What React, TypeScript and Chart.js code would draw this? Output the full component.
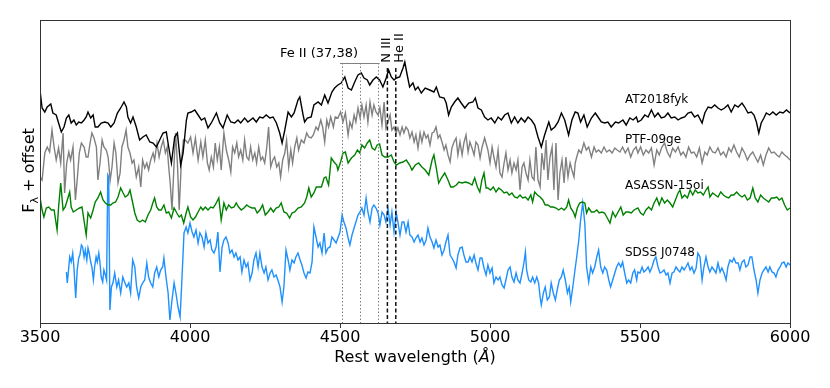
import React, { useEffect, useRef } from "react";
import { Chart, registerables } from "chart.js";

Chart.register(...registerables);

// Rest wavelength (Å) and F_lambda + offset (arbitrary units)
const WAVE_AT = [3500,3507,3516,3524,3536,3543,3554,3562,3571,3580,3588,3596,3604,3613,3621,3629,3638,3647,3654,3660,3669,3677,3684,3693,3704,3716,3727,3736,3747,3758,3769,3780,3788,3793,3802,3810,3821,3832,3843,3854,3866,3877,3888,3899,3910,3921,3929,3938,3949,3958,3969,3977,3988,
  3993,4004,4016,4027,4038,4049,4060,4071,4088,4099,4110,4124,4136,4149,4160,4169,4182,4193,4210,4221,4232,4243,4254,4266,4277,4288,4299,4307,4316,4327,4338,4347,4360,4366,4377,4382,4391,4404,4413,4427,4438,4449,4460,4473,4482,
  4493,4504,4516,4527,4538,4549,4560,4571,4580,4591,4599,4610,4621,4632,4643,4654,4662,4671,4680,4688,4699,4710,4716,4724,4732,4743,4751,4760,4771,4784,4799,4813,4821,4832,4847,4854,4862,4871,4882,4893,4904,4916,4929,4943,4951,4960,4971,4982,
  4993,5004,5016,5027,5038,5049,5060,5071,5082,5093,5104,5116,5127,5138,5149,5160,5171,5182,5196,5204,5216,5227,5238,5249,5262,5273,5284,5293,5302,5313,5324,5338,5351,5360,5371,5382,5393,5404,5418,5429,5443,5454,5466,5477,5488,
  5493,5504,5516,5527,5538,5549,5560,5571,5582,5593,5604,5616,5627,5638,5649,5660,5671,5682,5693,5707,5716,5727,5738,5749,5760,5771,5782,5793,5804,5816,5827,5840,5849,5860,5871,5880,5888,5896,5904,5913,5921,5932,5943,5954,5966,5977,5988,6000];
const FLUX_AT = [2.33,2.15,2.11,2.16,2.19,2.10,2.08,2.00,1.91,1.96,2.05,2.08,2.00,2.03,1.98,2.01,2.00,2.03,2.06,2.11,2.05,2.08,1.96,1.96,2.00,2.01,2.00,1.96,2.00,2.10,2.15,2.21,2.16,2.06,2.00,2.06,1.96,1.83,1.86,1.88,1.81,1.80,1.76,1.83,1.90,1.91,1.76,1.60,1.86,1.90,1.58,1.70,2.03,
  2.10,2.11,2.13,2.08,2.03,2.05,1.95,2.00,2.10,2.00,1.95,2.08,2.01,2.00,2.03,2.00,2.05,2.01,2.05,2.01,2.06,2.05,2.08,2.05,2.06,2.00,1.90,1.80,1.93,2.11,2.06,2.10,2.23,2.26,2.08,2.01,2.05,2.06,2.18,2.21,2.18,2.28,2.20,2.31,2.35,
  2.38,2.40,2.46,2.35,2.33,2.41,2.48,2.50,2.45,2.43,2.38,2.43,2.46,2.43,2.36,2.45,2.53,2.46,2.43,2.45,2.46,2.55,2.61,2.48,2.36,2.40,2.33,2.36,2.30,2.35,2.33,2.31,2.36,2.26,2.25,2.20,2.08,2.16,2.21,2.25,2.20,2.15,2.20,2.21,2.25,2.15,2.13,2.06,
  2.03,2.05,2.00,2.06,2.03,2.08,2.10,2.00,2.06,2.00,2.05,2.01,2.06,2.03,1.98,1.86,1.76,1.88,2.01,1.93,1.96,2.01,2.10,2.03,1.88,2.03,2.11,2.10,2.01,2.08,1.96,2.05,2.10,2.06,2.01,2.00,2.01,1.96,2.01,2.00,2.03,1.98,2.05,2.03,2.06,
  2.01,2.03,2.08,2.06,2.13,2.06,2.10,2.05,2.06,2.10,2.05,2.06,2.03,2.05,2.06,2.10,2.11,2.06,2.08,2.00,2.10,2.16,2.15,2.18,2.15,2.13,2.15,2.18,2.11,2.18,2.16,2.20,2.16,2.10,2.11,2.08,2.01,1.90,2.00,2.05,2.10,2.08,2.11,2.08,2.11,2.10,2.13,2.10];

const WAVE_PTF = [3500,3507,3516,3524,3532,3540,3547,3554,3562,3569,3577,3582,3589,3596,3602,3610,3618,3624,3631,3638,3647,3654,3660,3667,3673,3680,3688,3693,3700,3707,3713,3721,3727,3734,3740,3747,3753,3760,3767,3773,3780,3787,3793,3800,3807,3813,3821,3829,3836,3842,3849,3856,3862,3869,3877,3882,3890,3897,3904,3911,3918,3924,3929,3934,3940,3947,3952,3958,3964,3971,3978,3984,
  3993,4002,4010,4018,4027,4036,4043,4051,4058,4064,4071,4078,4084,4091,4098,4104,4113,4121,4129,4136,4142,4149,4156,4162,4169,4176,4182,4189,4196,4202,4209,4216,4222,4229,4236,4242,4249,4256,4262,4269,4276,4282,4289,4296,4302,4309,4316,4322,4329,4336,4342,4349,4356,4362,4371,4380,4389,4396,4404,4411,4420,4427,4436,4442,4449,4456,4462,4469,4478,4484,
  4493,4502,4510,4518,4527,4533,4540,4547,4553,4560,4567,4573,4580,4587,4593,4600,4607,4613,4620,4627,4633,4640,4647,4653,4660,4667,4673,4680,4687,4693,4700,4707,4713,4720,4727,4733,4740,4747,4753,4760,4767,4773,4780,4787,4793,4800,4807,4813,4820,4827,4833,4840,4847,4853,4860,4867,4873,4880,4887,4893,4900,4907,4913,4920,4927,4933,4940,4947,4953,4960,4967,4973,4982,
  4993,5000,5007,5013,5020,5027,5033,5040,5047,5053,5060,5067,5073,5080,5087,5093,5100,5107,5113,5120,5127,5133,5140,5147,5153,5160,5167,5173,5180,5187,5193,5200,5207,5213,5220,5227,5233,5240,5247,5253,5260,5267,5273,5280,5284,5289,5296,5304,5313,5321,5329,5338,5347,5354,5362,5371,5380,5389,5398,5407,5416,5424,5433,5442,5451,5460,5469,5478,5487,
  5493,5502,5511,5520,5529,5538,5547,5556,5564,5573,5582,5591,5600,5609,5618,5627,5636,5644,5653,5662,5671,5680,5689,5698,5707,5716,5724,5733,5742,5751,5760,5769,5778,5787,5796,5804,5813,5822,5831,5840,5849,5858,5867,5876,5884,5893,5902,5911,5920,5929,5938,5947,5956,5964,5973,5982,5991,6000];
const FLUX_PTF = [1.46,1.43,1.70,1.76,1.71,1.93,1.76,1.63,1.75,1.60,1.90,1.30,1.60,1.71,1.63,1.76,1.23,1.43,1.70,1.80,1.76,1.66,1.66,1.80,1.90,1.85,1.76,1.43,1.60,1.83,1.76,1.73,1.66,1.43,1.56,1.80,1.70,1.40,1.50,1.76,1.83,1.93,1.76,1.70,1.60,1.63,1.46,1.56,1.36,1.63,1.55,1.60,1.53,1.63,1.70,1.63,1.80,1.66,1.76,1.83,1.70,1.76,1.56,1.40,1.13,1.60,1.90,1.60,1.13,1.60,1.83,1.83,
  1.80,1.86,1.70,1.85,1.63,1.81,1.66,1.83,1.60,1.53,1.66,1.56,1.80,1.63,1.76,1.53,1.90,1.73,1.63,1.51,1.76,1.70,1.80,1.66,1.73,1.63,1.83,1.66,1.63,1.76,1.63,1.70,1.60,1.76,1.63,1.66,1.60,1.76,1.96,1.56,1.63,1.66,1.56,1.60,1.46,1.63,1.70,1.83,1.56,1.73,1.60,1.76,1.85,1.73,1.83,1.80,1.90,1.86,1.85,1.88,1.96,1.93,2.03,1.96,1.81,2.03,1.96,2.06,1.96,2.06,
  2.05,2.11,2.01,2.10,1.88,2.01,1.95,2.08,2.01,2.15,2.05,2.18,2.06,2.18,2.01,2.21,2.08,2.18,2.11,2.08,2.15,1.98,2.21,1.95,2.01,2.08,1.93,1.96,1.90,1.95,1.88,1.96,1.90,1.96,1.93,1.85,1.91,1.81,1.88,1.75,1.90,1.81,1.91,1.85,1.88,1.78,1.90,1.91,1.96,1.85,1.88,1.81,1.73,1.78,1.68,1.61,1.75,1.81,1.85,1.68,1.81,1.68,1.80,1.88,1.71,1.81,1.75,1.68,1.81,1.78,1.65,1.75,1.85,
  1.73,1.60,1.76,1.66,1.56,1.73,1.50,1.46,1.60,1.70,1.53,1.63,1.50,1.60,1.53,1.63,1.33,1.56,1.60,1.50,1.43,1.63,1.46,1.43,1.76,1.43,1.36,1.70,1.53,1.83,1.43,1.66,1.76,1.33,1.80,1.23,1.50,1.63,1.40,1.66,1.46,1.60,1.53,1.46,1.60,1.66,1.73,1.70,1.80,1.73,1.76,1.66,1.76,1.71,1.73,1.70,1.76,1.71,1.73,1.70,1.75,1.73,1.71,1.76,1.70,1.75,1.66,1.73,1.76,
  1.70,1.76,1.68,1.73,1.70,1.75,1.58,1.73,1.68,1.76,1.80,1.71,1.66,1.75,1.71,1.76,1.68,1.71,1.66,1.76,1.70,1.71,1.66,1.75,1.60,1.71,1.68,1.76,1.71,1.70,1.75,1.68,1.71,1.66,1.75,1.71,1.78,1.71,1.66,1.75,1.70,1.63,1.68,1.71,1.66,1.61,1.68,1.58,1.68,1.75,1.70,1.71,1.68,1.66,1.71,1.68,1.66,1.63];

const WAVE_ASASSN = [3500,3507,3513,3521,3529,3538,3547,3557,3562,3569,3577,3584,3591,3599,3604,3611,3621,3632,3640,3649,3654,3660,3669,3677,3684,3693,3702,3710,3718,3727,3736,3743,3752,3760,3769,3777,3784,3793,3800,3807,3816,3824,3833,3842,3851,3860,3869,3876,3882,3889,3896,3904,3913,3921,3929,3938,3947,3956,3964,3971,3979,3988,
  3993,4002,4010,4018,4027,4036,4043,4051,4060,4069,4077,4084,4096,4104,4113,4121,4129,4138,4147,4154,4162,4171,4180,4189,4198,4207,4216,4224,4233,4242,4251,4260,4269,4278,4287,4296,4304,4313,4322,4332,4340,4349,4360,4371,4382,4389,4396,4404,4413,4421,4429,4438,4447,4453,4462,4471,4480,4489,
  4493,4502,4510,4518,4527,4538,4549,4558,4566,4573,4582,4591,4599,4607,4616,4624,4632,4640,4649,4660,4671,4680,4688,4699,4710,4721,4732,4740,4751,4762,4773,4784,4796,4807,4813,4821,4829,4838,4849,4860,4869,4877,4888,4896,4907,4918,4929,4940,4949,4958,4966,4973,4980,4987,
  4993,5002,5011,5020,5029,5038,5047,5056,5064,5073,5082,5091,5100,5109,5118,5127,5136,5142,5149,5158,5167,5176,5184,5193,5202,5211,5220,5229,5238,5247,5256,5262,5269,5278,5284,5291,5299,5307,5316,5322,5329,5338,5347,5356,5364,5373,5382,5391,5400,5409,5418,5427,5436,5444,5453,5462,5471,5480,
  5493,5502,5511,5520,5529,5538,5547,5556,5564,5573,5582,5591,5600,5609,5618,5627,5633,5640,5649,5658,5667,5676,5684,5693,5702,5711,5720,5727,5733,5742,5751,5760,5769,5778,5787,5796,5804,5813,5822,5831,5840,5849,5858,5867,5876,5884,5893,5902,5911,5920,5929,5938,5947,5956,5964,5973,5982,5991,6000];
const FLUX_ASASSN = [1.26,1.13,1.06,1.15,1.16,1.13,1.13,0.93,1.16,1.40,1.13,1.16,1.23,1.31,1.16,1.11,1.13,1.15,1.16,0.98,0.88,1.10,1.05,1.13,1.21,1.25,1.31,1.23,1.20,1.18,1.18,1.20,1.21,1.26,1.35,1.30,1.26,1.28,1.33,1.23,1.10,1.03,1.01,1.03,1.01,1.08,1.13,1.20,1.25,1.16,1.13,1.13,1.18,1.10,1.11,1.05,1.15,1.10,1.06,1.08,1.00,1.11,
  1.16,1.06,1.03,1.06,1.11,1.16,1.13,1.16,1.13,1.16,1.15,1.18,1.25,1.03,1.20,1.13,1.18,1.15,1.16,1.20,1.16,1.13,1.15,1.18,1.16,1.15,1.15,1.10,1.13,1.18,1.08,1.11,1.15,1.11,1.15,1.16,1.20,1.11,1.10,1.05,1.10,1.11,1.15,1.16,1.20,1.26,1.35,1.26,1.30,1.36,1.36,1.36,1.45,1.46,1.38,1.65,1.61,1.58,
  1.53,1.61,1.70,1.71,1.60,1.65,1.68,1.73,1.70,1.78,1.75,1.80,1.83,1.75,1.73,1.78,1.79,1.68,1.66,1.66,1.68,1.61,1.58,1.60,1.61,1.63,1.58,1.53,1.58,1.60,1.56,1.53,1.48,1.63,1.68,1.55,1.40,1.45,1.50,1.43,1.36,1.36,1.38,1.41,1.40,1.41,1.40,1.38,1.45,1.36,1.31,1.43,1.50,1.35,
  1.35,1.33,1.36,1.31,1.35,1.33,1.30,1.31,1.28,1.30,1.26,1.25,1.28,1.25,1.26,1.23,1.28,1.21,1.31,1.28,1.26,1.23,1.18,1.18,1.16,1.16,1.15,1.13,1.15,1.13,1.16,1.23,1.15,1.11,1.06,1.15,1.20,1.21,1.20,1.10,1.15,1.11,1.11,1.13,1.10,1.11,1.10,1.05,1.00,1.11,1.06,1.11,1.16,1.08,1.11,1.11,1.10,1.13,
  1.15,1.10,1.08,1.13,1.16,1.13,1.20,1.25,1.18,1.25,1.20,1.23,1.20,1.16,1.23,1.30,1.33,1.25,1.28,1.25,1.33,1.28,1.33,1.30,1.31,1.28,1.33,1.36,1.26,1.30,1.28,1.26,1.31,1.28,1.26,1.25,1.28,1.28,1.31,1.28,1.26,1.28,1.23,1.25,1.35,1.25,1.21,1.28,1.25,1.23,1.21,1.25,1.25,1.26,1.23,1.25,1.18,1.13,1.15];

const WAVE_SDSS = [3588,3591,3596,3599,3604,3609,3613,3619,3624,3629,3633,3638,3642,3647,3651,3656,3660,3664,3669,3673,3678,3682,3687,3691,3696,3700,3704,3709,3713,3718,3722,3726,3729,3733,3738,3743,3749,3756,3762,3769,3776,3782,3789,3796,3802,3809,3816,3822,3829,3836,3842,3849,3856,3862,3869,3876,3882,3889,3896,3902,3909,3913,3920,3927,3933,3940,3947,3953,3960,3967,3973,3980,3987,
  3993,4000,4007,4013,4020,4027,4033,4040,4047,4053,4060,4067,4073,4080,4087,4093,4100,4107,4113,4120,4127,4133,4140,4147,4153,4160,4167,4173,4180,4187,4193,4200,4207,4213,4220,4227,4233,4240,4247,4253,4260,4267,4273,4280,4287,4293,4300,4307,4313,4320,4327,4333,4340,4347,4353,4360,4367,4373,4380,4387,4393,4400,4407,4413,4420,4427,4433,4440,4447,4453,4460,4467,4473,4480,4487,
  4493,4500,4507,4513,4520,4527,4533,4540,4547,4553,4560,4567,4573,4580,4587,4593,4600,4607,4613,4620,4627,4633,4640,4647,4653,4660,4667,4673,4680,4687,4693,4700,4707,4713,4720,4727,4733,4740,4747,4753,4760,4767,4773,4780,4787,4793,4800,4807,4813,4820,4827,4833,4840,4847,4853,4860,4867,4873,4880,4887,4893,4900,4907,4913,4920,4927,4933,4940,4947,4953,4960,4967,4973,4980,4987,
  4993,5000,5007,5013,5020,5027,5033,5040,5047,5053,5060,5067,5073,5080,5087,5093,5100,5107,5113,5118,5122,5129,5136,5142,5149,5156,5162,5167,5171,5178,5184,5191,5198,5204,5211,5218,5224,5231,5238,5244,5251,5258,5264,5269,5276,5282,5289,5296,5302,5309,5316,5322,5329,5336,5342,5349,5356,5362,5369,5376,5382,5389,5396,5402,5409,5416,5422,5429,5436,5442,5449,5456,5462,5469,5476,5482,5489,
  5493,5500,5507,5513,5520,5527,5533,5540,5547,5553,5560,5567,5573,5580,5587,5593,5600,5607,5613,5620,5627,5633,5640,5647,5653,5660,5667,5673,5680,5687,5693,5700,5707,5713,5720,5727,5733,5740,5747,5753,5760,5767,5773,5780,5787,5793,5800,5807,5813,5820,5827,5833,5840,5847,5853,5860,5867,5873,5880,5887,5893,5900,5907,5913,5920,5927,5933,5940,5947,5953,5960,5967,5973,5980,5987,5993,6000];
const FLUX_SDSS = [0.51,0.40,0.56,0.66,0.61,0.70,0.56,0.25,0.53,0.65,0.68,0.78,0.76,0.66,0.73,0.63,0.75,0.70,0.61,0.56,0.43,0.56,0.66,0.61,0.70,0.60,0.46,0.41,0.53,0.48,0.43,1.48,1.46,0.13,0.36,0.40,0.50,0.36,0.43,0.30,0.46,0.41,0.36,0.40,0.30,0.63,0.56,0.36,0.25,0.36,0.40,0.43,0.60,0.46,0.40,0.36,0.50,0.56,0.46,0.53,0.56,0.65,0.46,0.30,0.03,0.23,0.40,0.30,0.16,0.06,0.43,0.90,0.96,
  0.90,1.00,0.91,0.86,0.93,0.80,0.90,0.86,0.76,0.90,0.80,0.83,0.73,0.70,0.76,0.91,0.51,0.76,0.83,0.86,0.80,0.70,0.73,0.66,0.70,0.63,0.66,0.51,0.63,0.56,0.60,0.43,0.50,0.63,0.70,0.56,0.70,0.56,0.50,0.56,0.43,0.50,0.53,0.46,0.48,0.43,0.36,0.21,0.36,0.73,0.63,0.53,0.63,0.60,0.66,0.70,0.63,0.58,0.50,0.45,0.51,0.50,0.61,0.96,0.86,0.76,0.80,0.70,0.90,0.70,0.75,0.76,0.86,0.83,0.80,
  0.85,0.91,1.08,1.01,0.95,0.85,0.78,0.88,0.95,1.01,1.08,1.11,1.15,1.08,1.25,1.11,1.01,1.15,1.18,1.15,1.10,0.98,1.11,1.08,1.01,1.15,0.98,1.11,0.91,1.11,1.01,0.88,1.01,1.01,0.91,1.01,0.88,0.86,0.81,0.85,0.88,0.81,0.85,0.78,0.83,0.95,0.86,0.81,0.75,0.83,0.76,0.78,0.68,0.73,0.81,0.88,0.68,0.65,0.61,0.55,0.68,0.75,0.76,0.68,0.61,0.61,0.66,0.61,0.68,0.60,0.53,0.65,0.65,0.55,0.48,
  0.58,0.50,0.55,0.40,0.46,0.43,0.46,0.38,0.35,0.43,0.53,0.56,0.46,0.41,0.50,0.43,0.40,0.50,0.60,0.71,0.53,0.43,0.41,0.46,0.40,0.46,0.40,0.26,0.18,0.30,0.36,0.23,0.26,0.40,0.30,0.23,0.33,0.43,0.46,0.53,0.43,0.30,0.36,0.21,0.36,0.50,0.66,0.83,1.03,1.20,1.00,0.56,0.41,0.56,0.50,0.56,0.66,0.73,0.56,0.50,0.56,0.53,0.43,0.36,0.43,0.50,0.56,0.60,0.56,0.61,0.50,0.40,0.43,0.40,0.50,0.53,0.43,
  0.51,0.50,0.56,0.51,0.53,0.56,0.51,0.56,0.63,0.66,0.56,0.50,0.51,0.53,0.48,0.50,0.40,0.50,0.51,0.56,0.53,0.51,0.56,0.53,0.56,0.60,0.53,0.56,0.50,0.55,0.70,0.66,0.43,0.56,0.66,0.56,0.51,0.56,0.53,0.50,0.60,0.51,0.55,0.50,0.43,0.56,0.63,0.61,0.65,0.60,0.60,0.53,0.61,0.63,0.56,0.58,0.66,0.66,0.53,0.43,0.30,0.43,0.50,0.53,0.56,0.51,0.56,0.51,0.50,0.46,0.53,0.56,0.60,0.61,0.56,0.60,0.58];

const SERIES_NAMES = ["AT2018fyk", "PTF-09ge", "ASASSN-15oi", "SDSS J0748"];
const SERIES_COLORS = ["#000000", "#808080", "#008000", "#1e90ff"];
const LABEL_WAVE = 5450;
const LABEL_FLUX = [2.23, 1.83, 1.37, 0.70];

const FE_LINES = [4508, 4568, 4625];
const FE_BRACKET = [4500, 4632];
const FE_LEVEL = 2.6;
const N3_WAVE = 4658;
const HE2_WAVE = 4686;
const DASH_TOP = 2.55;

const X_TICKS = [3500, 4000, 4500, 5000, 5500, 6000];
const X_TITLE = ["Rest wavelength (", "Å", ")"];
const FONT = "'DejaVu Sans', sans-serif";

function pts(w: number[], f: number[]) {
  const n = Math.min(w.length, f.length);
  const out: { x: number; y: number }[] = [];
  for (let i = 0; i < n; i++) out.push({ x: w[i], y: f[i] });
  return out;
}

const annotPlugin = {
  id: "annot",
  afterDatasetsDraw(chart: any) {
    const { ctx, chartArea: a, scales } = chart;
    const xs = scales.x, ys = scales.y;
    ctx.save();
    ctx.strokeStyle = "#808080";
    ctx.lineWidth = 1;
    ctx.setLineDash([1.5, 2]);
    for (const w of FE_LINES) {
      const px = Math.round(xs.getPixelForValue(w)) + 0.5;
      ctx.beginPath();
      ctx.moveTo(px, ys.getPixelForValue(FE_LEVEL));
      ctx.lineTo(px, a.bottom);
      ctx.stroke();
    }
    ctx.setLineDash([]);
    ctx.beginPath();
    const by = Math.round(ys.getPixelForValue(FE_LEVEL)) + 0.5;
    ctx.moveTo(xs.getPixelForValue(FE_BRACKET[0]), by);
    ctx.lineTo(xs.getPixelForValue(FE_BRACKET[1]), by);
    ctx.stroke();
    ctx.strokeStyle = "#111";
    ctx.lineWidth = 1.5;
    ctx.setLineDash([4, 2.5]);
    for (const w of [N3_WAVE, HE2_WAVE]) {
      const px = xs.getPixelForValue(w);
      ctx.beginPath();
      ctx.moveTo(px, ys.getPixelForValue(DASH_TOP));
      ctx.lineTo(px, a.bottom);
      ctx.stroke();
    }
    ctx.setLineDash([]);
    ctx.fillStyle = "#000";
    ctx.font = `13px ${FONT}`;
    ctx.textAlign = "center";
    ctx.textBaseline = "middle";
    ctx.fillText("Fe II (37,38)", xs.getPixelForValue(4430), ys.getPixelForValue(2.69));
    const rot = (t: string, w: number, f: number) => {
      ctx.save();
      ctx.translate(xs.getPixelForValue(w), ys.getPixelForValue(f));
      ctx.rotate(-Math.PI / 2);
      ctx.fillText(t, 0, 0);
      ctx.restore();
    };
    rot("N III", 4656, 2.73);
    rot("He II", 4698, 2.75);
    ctx.font = `12px ${FONT}`;
    ctx.textAlign = "left";
    SERIES_NAMES.forEach((n, i) => {
      ctx.fillText(n, xs.getPixelForValue(LABEL_WAVE), ys.getPixelForValue(LABEL_FLUX[i]));
    });
    ctx.restore();
  },
  afterDraw(chart: any) {
    const { ctx, chartArea: a } = chart;
    ctx.save();
    ctx.strokeStyle = "#333";
    ctx.lineWidth = 1;
    ctx.strokeRect(Math.round(a.left) + 0.5, Math.round(a.top) + 0.5, Math.round(a.right - a.left), Math.round(a.bottom - a.top));

    // x-axis title with italic Å
    ctx.fillStyle = "#000";
    ctx.textBaseline = "alphabetic";
    ctx.textAlign = "left";
    const fN = `16px ${FONT}`;
    const fI = `italic 16px ${FONT}`;
    ctx.font = fN;
    const w0 = ctx.measureText(X_TITLE[0]).width;
    const w2 = ctx.measureText(X_TITLE[2]).width;
    ctx.font = fI;
    const w1 = ctx.measureText(X_TITLE[1]).width;
    let tx = (a.left + a.right) / 2 - (w0 + w1 + w2) / 2;
    const ty = 362;
    ctx.font = fN;
    ctx.fillText(X_TITLE[0], tx, ty);
    tx += w0;
    ctx.font = fI;
    ctx.fillText(X_TITLE[1], tx, ty);
    tx += w1;
    ctx.font = fN;
    ctx.fillText(X_TITLE[2], tx, ty);

    // y label with subscript lambda
    const cy = (a.top + a.bottom) / 2 - 1;
    ctx.translate(34, cy);
    ctx.rotate(-Math.PI / 2);
    const f2 = `11px ${FONT}`;
    ctx.font = fN;
    const wF = ctx.measureText("F").width;
    const wRest = ctx.measureText(" + offset").width;
    ctx.font = f2;
    const wL = ctx.measureText("λ").width;
    const total = wF + wL + wRest;
    let x0 = -total / 2;
    ctx.font = fN;
    ctx.fillText("F", x0, 0);
    x0 += wF;
    ctx.font = f2;
    ctx.fillText("λ", x0, 4);
    x0 += wL;
    ctx.font = fN;
    ctx.fillText(" + offset", x0, 0);
    ctx.restore();
  },
};

export default function App() {
  const ref = useRef<HTMLCanvasElement>(null);
  useEffect(() => {
    document.body.style.margin = "0";
    const canvas = ref.current!;
    const series = [
      pts(WAVE_AT, FLUX_AT),
      pts(WAVE_PTF, FLUX_PTF),
      pts(WAVE_ASASSN, FLUX_ASASSN),
      pts(WAVE_SDSS, FLUX_SDSS),
    ];
    const chart = new Chart(canvas, {
      type: "line",
      data: {
        datasets: series.map((d, i) => ({
          label: SERIES_NAMES[i],
          data: d,
          borderColor: SERIES_COLORS[i],
          borderWidth: 1.4,
          pointRadius: 0,
          tension: 0,
          fill: false,
        })),
      },
      options: {
        animation: false,
        responsive: false,
        devicePixelRatio: 1,
        layout: { padding: { left: 0, right: 40, top: 20, bottom: 0 } },
        plugins: { legend: { display: false }, tooltip: { enabled: false } },
        scales: {
          x: {
            type: "linear",
            min: 3500,
            max: 6000,
            afterBuildTicks: (s: any) => {
              s.ticks = X_TICKS.map((v) => ({ value: v }));
            },
            afterFit: (s: any) => {
              s.height = 65;
            },
            ticks: {
              autoSkip: false,
              maxRotation: 0,
              color: "#000",
              padding: 2,
              font: { family: FONT, size: 16, lineHeight: 1.0 },
              callback: (v: any) => String(v),
            },
            grid: { drawOnChartArea: false, drawTicks: true, tickLength: 5, color: "#333" },
            border: { display: false },
            title: { display: false },
          },
          y: {
            type: "linear",
            min: 0,
            max: 3.03,
            afterFit: (s: any) => {
              s.width = 40;
            },
            ticks: { display: false },
            grid: { display: false },
            border: { display: false },
          },
        },
      },
      plugins: [annotPlugin],
    });
    return () => chart.destroy();
  }, []);
  return (
    <div style={{ width: 830, height: 388 }}>
      <canvas ref={ref} width={830} height={388} />
    </div>
  );
}
